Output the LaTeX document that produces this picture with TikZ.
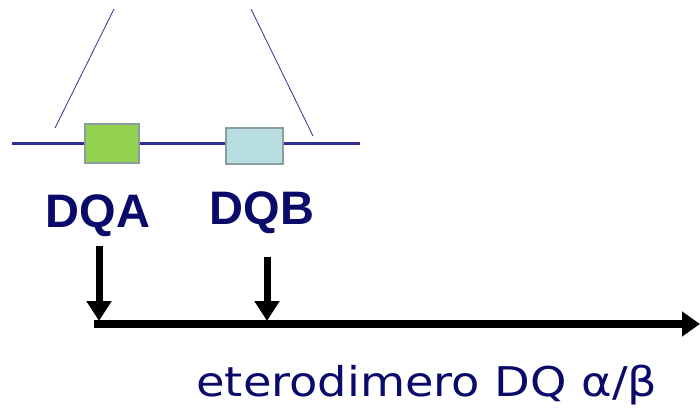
\documentclass[tikz,border=0pt]{standalone}
\usepackage{fontspec}
\setmainfont{Liberation Sans}
\newfontfamily\captionfont{DejaVu Sans}
\usetikzlibrary{arrows.meta}
\definecolor{chrblue}{HTML}{2E2E96}
\definecolor{labnavy}{HTML}{0A0A6A}
\definecolor{genegreen}{HTML}{92D050}
\definecolor{genecyan}{HTML}{B7DDE1}
\definecolor{geneedge}{HTML}{8A9E9E}
\begin{document}
\begin{tikzpicture}[x=1pt, y=-1pt,
    gene/.style={rectangle, draw=geneedge, line width=2pt, inner sep=0pt},
    label/.style={font=\fontsize{47}{50}\selectfont\bfseries, text=labnavy, inner sep=0pt},
    chrom/.style={draw=chrblue, line width=3pt},
    zoomline/.style={draw=chrblue, line width=0.8pt},
    arrow/.style={-{Triangle[width=24pt,length=20pt]}, line width=7pt},
    axis/.style={-{Triangle[width=24pt,length=18pt]}, line width=8pt}
]
\useasboundingbox (0,0) rectangle (700,417);

% chromosome with the two genes
\coordinate (chrL) at (12,143);
\coordinate (chrR) at (360,143);
\draw[chrom] (chrL) -- (chrR);
\node[gene, fill=genegreen, minimum width=54pt, minimum height=39pt] (dqa) at (112,143.5) {};
\node[gene, fill=genecyan,  minimum width=57pt, minimum height=36pt] (dqb) at (254.5,146) {};

% zoom lines
\coordinate (zAtop) at (114,9);
\coordinate (zAbot) at (55,128);
\coordinate (zBtop) at (251,9);
\coordinate (zBbot) at (313,136);
\draw[zoomline] (zAtop) -- (zAbot);
\draw[zoomline] (zBtop) -- (zBbot);

% gene names
\node[label] (lblA) at (98,216) {DQA};
\node[label] (lblB) at (262,213) {DQB};

% arrows onto the product axis
\coordinate (axL) at (94,324);
\coordinate (axR) at (700,324);
\coordinate (inA) at (99,246);
\coordinate (inB) at (267,257);
\coordinate (hitA) at (99,321);
\coordinate (hitB) at (267,321);
\draw[arrow] (inA) -- (hitA);
\draw[arrow] (inB) -- (hitB);
\draw[axis] (axL) -- (axR);

\node[font=\captionfont\fontsize{41}{46}\selectfont, text=labnavy, inner sep=0pt] (prod) at (427,385) {\scalebox{1.13}[1]{eterodimero DQ α/β}};
\end{tikzpicture}
\end{document}
